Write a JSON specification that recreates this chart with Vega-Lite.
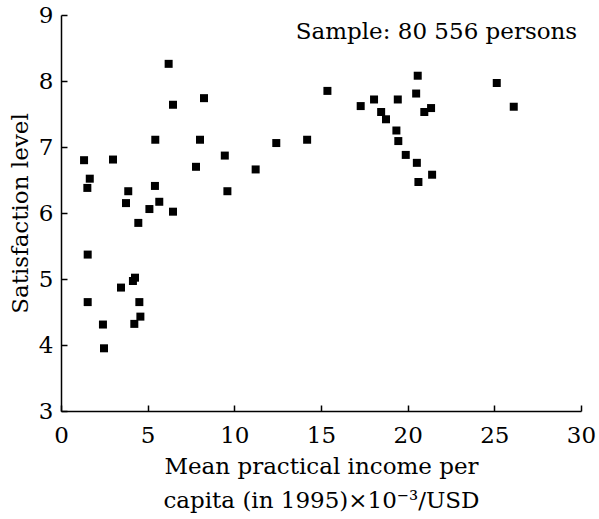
{
  "$schema": "https://vega.github.io/schema/vega-lite/v6.json",
  "width": 520,
  "height": 396,
  "autosize": {"type": "none"},
  "padding": {"left": 61, "top": 15, "right": 18, "bottom": 108},
  "background": "white",
  "config": {
    "view": {"stroke": null},
    "font": "DejaVu Serif",
    "axis": {
      "grid": false,
      "labelFlush": false,
      "labelOverlap": false,
      "domainColor": "black",
      "domainWidth": 1.5,
      "tickColor": "black",
      "tickWidth": 1.5,
      "tickSize": -6,
      "labelColor": "black",
      "labelFontSize": 23,
      "labelFont": "DejaVu Serif",
      "titleFont": "DejaVu Serif",
      "titleFontSize": 23,
      "titleFontWeight": "normal",
      "titleColor": "black"
    }
  },
  "layer": [
    {
      "data": {
        "values": [
          {"income": 1.33, "satisfaction": 6.80},
          {"income": 1.66, "satisfaction": 6.52},
          {"income": 1.52, "satisfaction": 6.38},
          {"income": 3.00, "satisfaction": 6.81},
          {"income": 3.88, "satisfaction": 6.33},
          {"income": 3.75, "satisfaction": 6.15},
          {"income": 5.42, "satisfaction": 6.41},
          {"income": 5.44, "satisfaction": 7.11},
          {"income": 5.10, "satisfaction": 6.06},
          {"income": 5.67, "satisfaction": 6.17},
          {"income": 6.46, "satisfaction": 6.02},
          {"income": 4.46, "satisfaction": 5.85},
          {"income": 6.21, "satisfaction": 8.26},
          {"income": 6.46, "satisfaction": 7.64},
          {"income": 8.25, "satisfaction": 7.74},
          {"income": 8.02, "satisfaction": 7.11},
          {"income": 7.79, "satisfaction": 6.70},
          {"income": 9.45, "satisfaction": 6.87},
          {"income": 9.60, "satisfaction": 6.33},
          {"income": 11.23, "satisfaction": 6.66},
          {"income": 12.42, "satisfaction": 7.06},
          {"income": 14.20, "satisfaction": 7.11},
          {"income": 1.54, "satisfaction": 5.37},
          {"income": 4.27, "satisfaction": 5.02},
          {"income": 4.15, "satisfaction": 4.97},
          {"income": 3.46, "satisfaction": 4.87},
          {"income": 1.54, "satisfaction": 4.65},
          {"income": 4.52, "satisfaction": 4.65},
          {"income": 4.58, "satisfaction": 4.43},
          {"income": 4.23, "satisfaction": 4.32},
          {"income": 2.42, "satisfaction": 4.31},
          {"income": 2.48, "satisfaction": 3.95},
          {"income": 15.37, "satisfaction": 7.85},
          {"income": 17.29, "satisfaction": 7.62},
          {"income": 18.06, "satisfaction": 7.72},
          {"income": 18.47, "satisfaction": 7.53},
          {"income": 18.75, "satisfaction": 7.42},
          {"income": 19.43, "satisfaction": 7.72},
          {"income": 19.35, "satisfaction": 7.25},
          {"income": 19.46, "satisfaction": 7.09},
          {"income": 19.89, "satisfaction": 6.88},
          {"income": 20.53, "satisfaction": 6.76},
          {"income": 20.62, "satisfaction": 6.47},
          {"income": 21.41, "satisfaction": 6.58},
          {"income": 20.49, "satisfaction": 7.81},
          {"income": 20.58, "satisfaction": 8.08},
          {"income": 20.96, "satisfaction": 7.53},
          {"income": 21.35, "satisfaction": 7.59},
          {"income": 25.14, "satisfaction": 7.97},
          {"income": 26.12, "satisfaction": 7.61}
        ]
      },
      "mark": {"type": "point", "shape": "square", "filled": true, "color": "black", "size": 64, "opacity": 1},
      "encoding": {
        "x": {
          "field": "income",
          "type": "quantitative",
          "scale": {"domain": [0, 30], "nice": false, "zero": false},
          "axis": {
            "values": [0, 5, 10, 15, 20, 25, 30],
            "format": "d",
            "labelPadding": 19,
            "titlePadding": 8,
            "titleLineHeight": 34,
            "title": ["Mean practical income per", "capita (in 1995)×10⁻³/USD"]
          }
        },
        "y": {
          "field": "satisfaction",
          "type": "quantitative",
          "scale": {"domain": [3, 9], "nice": false, "zero": false},
          "axis": {
            "values": [3, 4, 5, 6, 7, 8, 9],
            "format": "d",
            "labelPadding": 14,
            "titlePadding": 6,
            "title": "Satisfaction level"
          }
        }
      }
    },
    {
      "data": {"values": [{"income": 29.78, "satisfaction": 8.74, "label": "Sample: 80 556 persons"}]},
      "mark": {"type": "text", "align": "right", "baseline": "middle", "fontSize": 23, "font": "DejaVu Serif", "color": "black"},
      "encoding": {
        "x": {"field": "income", "type": "quantitative"},
        "y": {"field": "satisfaction", "type": "quantitative"},
        "text": {"field": "label"}
      }
    }
  ]
}
